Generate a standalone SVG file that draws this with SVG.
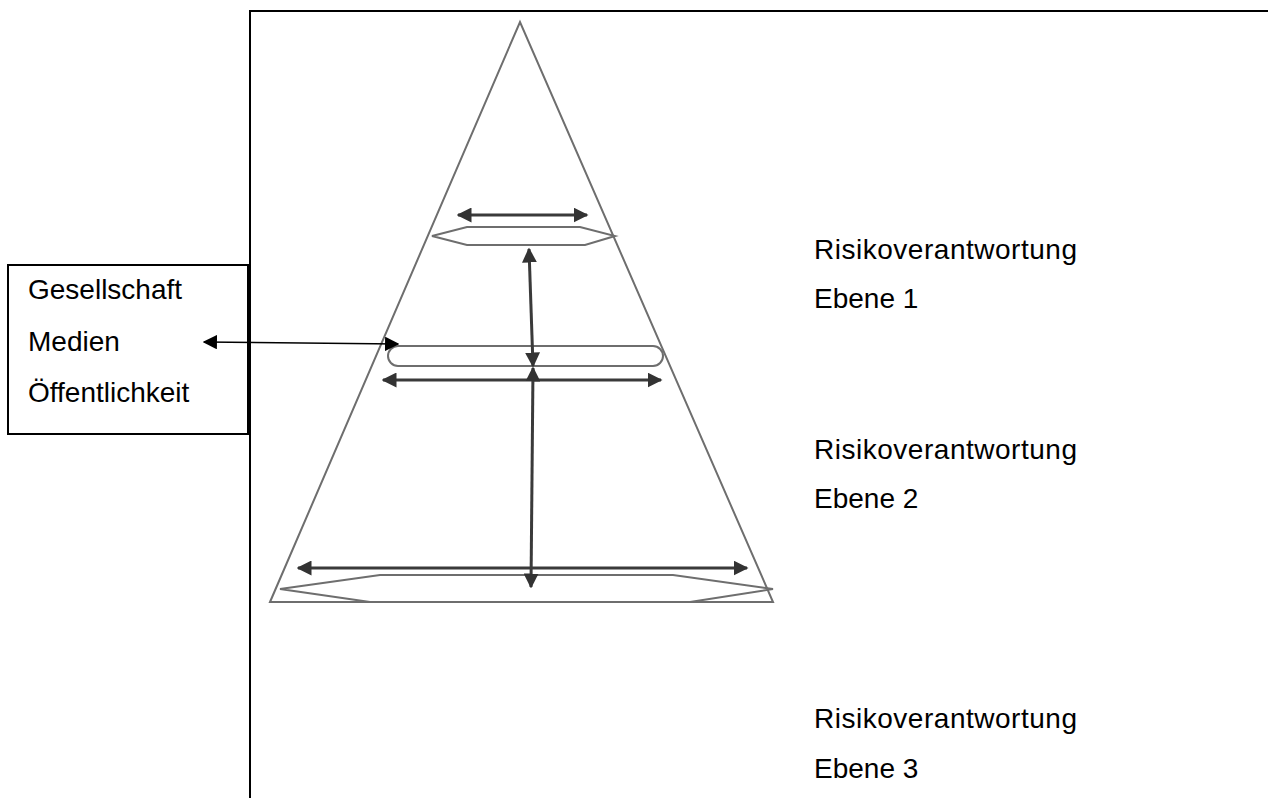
<svg xmlns="http://www.w3.org/2000/svg" width="1269" height="798" viewBox="0 0 1269 798">
<defs>
<marker id="ah" viewBox="0 0 10 10" refX="9" refY="5" markerWidth="5" markerHeight="5" orient="auto-start-reverse" markerUnits="strokeWidth">
<path d="M0,0 L10,5 L0,10 Z" fill="#333"/>
</marker>
<marker id="ahb" viewBox="0 0 10 10" refX="9" refY="5" markerWidth="9" markerHeight="9" orient="auto-start-reverse" markerUnits="strokeWidth">
<path d="M0,0 L10,5 L0,10 Z" fill="#000"/>
</marker>
<style>
.t{font-family:"Liberation Sans",Arial,sans-serif;font-size:28px;fill:#000}
.r{font-family:"Liberation Sans",Arial,sans-serif;font-size:28px;fill:#000}
.g{fill:none;stroke:#6e6e6e;stroke-width:2}
.a{fill:none;stroke:#3a3a3a;stroke-width:3}
</style>
</defs>
<rect width="1269" height="798" fill="#fff"/>
<g id="frame">
<path d="M250,798 V11 H1268" fill="none" stroke="#000" stroke-width="2"/>
</g>
<g id="pyramid">
<path class="g" d="M270,602 L520,22 L773,602 Z" stroke-width="1.6"/>
</g>
<g id="level1-shape">
<path class="g" d="M432,236 L467,227 L580,227 L615,236 L585,245 L467,245 Z"/>
</g>
<g id="level2-shape">
<rect class="g" x="388" y="346" width="275" height="20" rx="10" ry="10"/>
</g>
<g id="level3-shape">
<path class="g" d="M280,589 L380,575 L673,575 L773,589 L690,602 L370,602 Z"/>
</g>
<g id="society-box">
<rect x="8" y="265" width="240" height="169" fill="#fff" stroke="#000" stroke-width="2"/>
<text class="t" x="28" y="299">Gesellschaft</text>
<text class="t" x="28" y="351">Medien</text>
<text class="t" x="28" y="402">Öffentlichkeit</text>
</g>
<g id="labels">
<text class="r" x="814" y="259" textLength="263" lengthAdjust="spacing">Risikoverantwortung</text>
<text class="r" x="814" y="308">Ebene 1</text>
<text class="r" x="814" y="459" textLength="263" lengthAdjust="spacing">Risikoverantwortung</text>
<text class="r" x="814" y="508">Ebene 2</text>
<text class="r" x="814" y="728" textLength="263" lengthAdjust="spacing">Risikoverantwortung</text>
<text class="r" x="814" y="778">Ebene 3</text>
</g>
<g id="connectors">
<line class="a" x1="458" y1="215" x2="587" y2="215" marker-start="url(#ah)" marker-end="url(#ah)"/>
<line class="a" x1="529" y1="249" x2="533" y2="366" marker-start="url(#ah)" marker-end="url(#ah)"/>
<line class="a" x1="383" y1="380" x2="661" y2="380" marker-start="url(#ah)" marker-end="url(#ah)"/>
<line class="a" x1="533" y1="368" x2="531" y2="587" marker-start="url(#ah)" marker-end="url(#ah)"/>
<line class="a" x1="298" y1="568" x2="747" y2="568" marker-start="url(#ah)" marker-end="url(#ah)"/>
<line x1="204" y1="342" x2="398" y2="344" stroke="#000" stroke-width="1.6" marker-start="url(#ahb)" marker-end="url(#ahb)"/>
</g>
</svg>
